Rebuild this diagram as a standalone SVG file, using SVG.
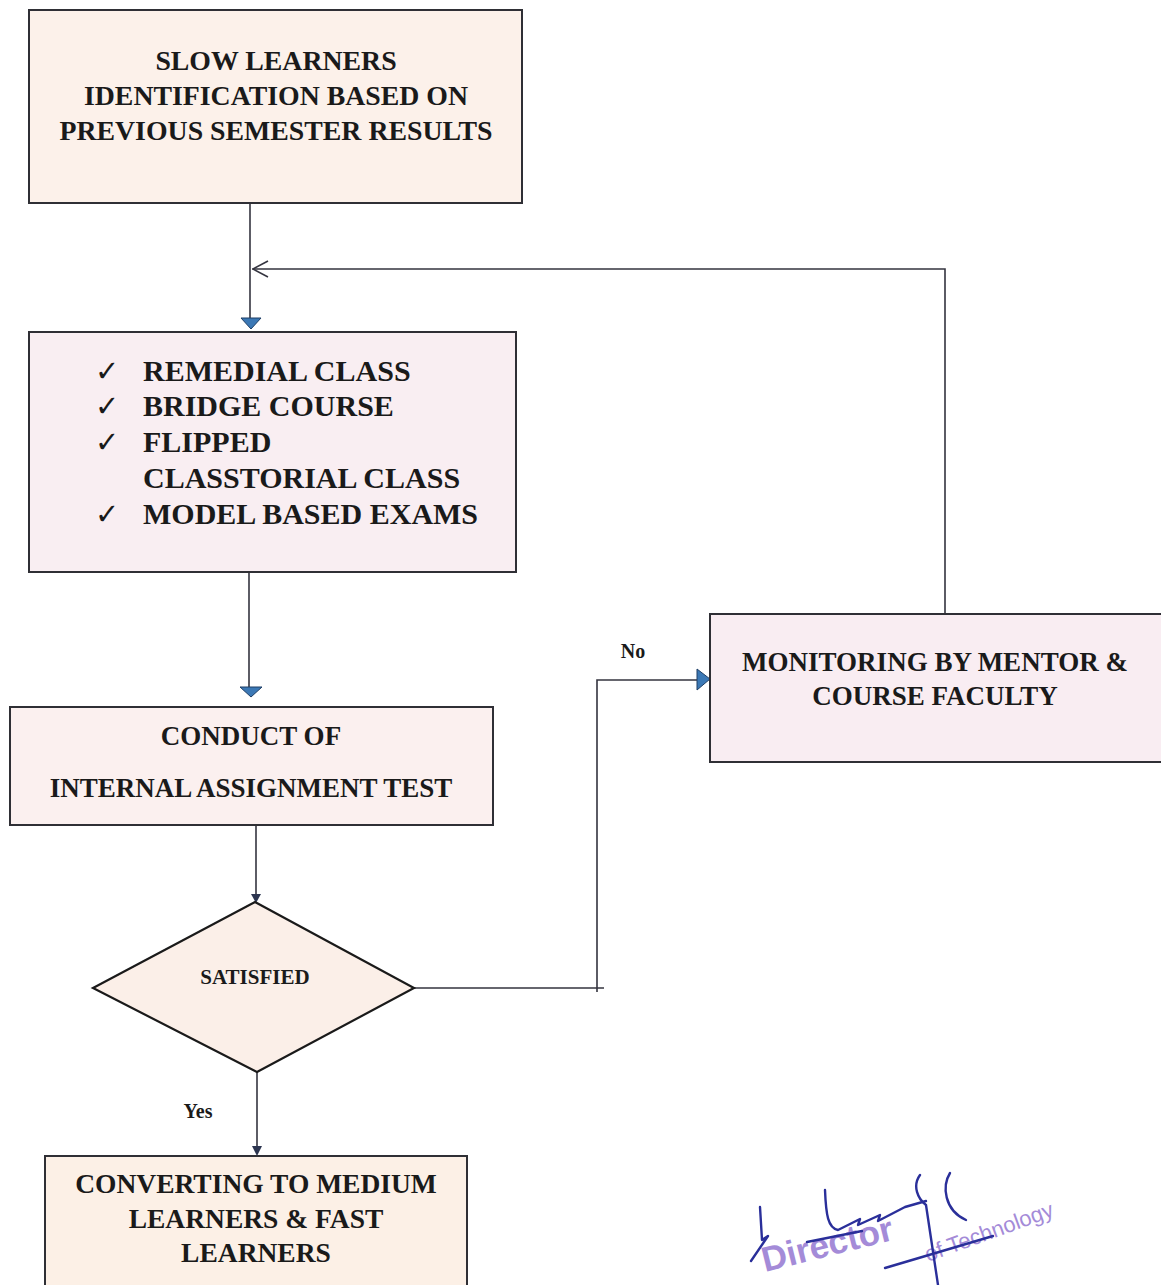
<svg xmlns="http://www.w3.org/2000/svg" width="1161" height="1285" viewBox="0 0 1161 1285">
<style>
.box{stroke:#2f2f35;stroke-width:2}
.t{font-family:"Liberation Serif","Times New Roman",serif;font-weight:bold;fill:#1a1a1a;text-anchor:middle}
.tl{font-family:"Liberation Serif","Times New Roman",serif;font-weight:bold;fill:#1a1a1a}
.ck{font-family:"DejaVu Sans",sans-serif;fill:#1a1a1a}
.c{fill:none;stroke:#34343f;stroke-width:1.6}
.tri{fill:#3b78b5;stroke:#1f3f66;stroke-width:1}
.sm{fill:#2c3550}
.sig{fill:none;stroke:#2a2f9a;stroke-width:2.4;stroke-linecap:round;stroke-linejoin:round}
.stamp{font-family:"Liberation Sans",Arial,sans-serif;fill:#a48bd8}
</style>
<rect width="1161" height="1285" fill="#ffffff"/>

<g id="connectors">
  <path class="c" d="M250,203 V320"/>
  <path class="c" d="M945,614 V269 H252"/>
  <path class="c" d="M253,269 L268,261 M253,269 L268,277"/>
  <polygon class="tri" points="241,318 261,318 251,329"/>
  <path class="c" d="M249,572 V688"/>
  <polygon class="tri" points="240,687 262,687 251,697"/>
  <path class="c" d="M256,825 V896"/>
  <polygon class="sm" points="251,894 261,894 256,903"/>
  <path class="c" d="M414,988 H604 M597,992 V680 H700"/>
  <polygon class="tri" points="697,669 710,679 697,690"/>
  <path class="c" d="M257,1072 V1148"/>
  <polygon class="sm" points="252,1146 262,1146 257,1156"/>
  <text class="t" x="633" y="658" font-size="20">No</text>
  <text class="t" x="198" y="1118" font-size="20">Yes</text>
</g>

<g id="node-identification">
  <rect class="box" x="29" y="10" width="493" height="193" fill="#fcf1ea"/>
  <text class="t" x="276" y="70" font-size="27.8">SLOW LEARNERS</text>
  <text class="t" x="276" y="105" font-size="27.8">IDENTIFICATION BASED ON</text>
  <text class="t" x="276" y="140" font-size="27.8">PREVIOUS SEMESTER RESULTS</text>
</g>

<g id="node-remedial">
  <rect class="box" x="29" y="332" width="487" height="240" fill="#f9eef2"/>
  <text class="ck" x="95" y="381" font-size="29">✓</text>
  <text class="tl" x="143" y="381" font-size="30">REMEDIAL CLASS</text>
  <text class="ck" x="95" y="416" font-size="29">✓</text>
  <text class="tl" x="143" y="416" font-size="30">BRIDGE COURSE</text>
  <text class="ck" x="95" y="452" font-size="29">✓</text>
  <text class="tl" x="143" y="452" font-size="30">FLIPPED</text>
  <text class="tl" x="143" y="488" font-size="30">CLASSTORIAL CLASS</text>
  <text class="ck" x="95" y="524" font-size="29">✓</text>
  <text class="tl" x="143" y="524" font-size="30">MODEL BASED EXAMS</text>
</g>

<g id="node-conduct">
  <rect class="box" x="10" y="707" width="483" height="118" fill="#fbf0ef"/>
  <text class="t" x="251" y="745" font-size="27">CONDUCT OF</text>
  <text class="t" x="251" y="797" font-size="27">INTERNAL ASSIGNMENT TEST</text>
</g>

<g id="node-satisfied">
  <polygon points="255,902 414,988 257,1072 93,988" fill="#fbefe8" stroke="#1a1a1a" stroke-width="2.2"/>
  <text class="t" x="255" y="984" font-size="21">SATISFIED</text>
</g>

<g id="node-monitoring">
  <rect class="box" x="710" y="614" width="455" height="148" fill="#f9edf2"/>
  <text class="t" x="935" y="671" font-size="27">MONITORING BY MENTOR &amp;</text>
  <text class="t" x="935" y="705" font-size="27">COURSE FACULTY</text>
</g>

<g id="node-converting">
  <rect class="box" x="45" y="1156" width="422" height="140" fill="#fcf0e6"/>
  <text class="t" x="256" y="1193" font-size="27.5">CONVERTING TO MEDIUM</text>
  <text class="t" x="256" y="1228" font-size="27.5">LEARNERS &amp; FAST</text>
  <text class="t" x="256" y="1262" font-size="27.5">LEARNERS</text>
</g>

<g id="stamp">
  <text class="stamp" x="765" y="1272" font-size="35" font-weight="bold" transform="rotate(-14 765 1272)">Director</text>
  <text class="stamp" x="928" y="1262" font-size="22" transform="rotate(-20 928 1262)">of Technology</text>
  <path class="sig" d="M760,1207 L762,1240 L768,1236 L751,1261"/>
  <path class="sig" d="M825,1190 C826,1215 828,1228 838,1230 L860,1219 L858,1225 L880,1215 L878,1221 L905,1207 L926,1201"/>
  <path class="sig" d="M807,1242 L862,1231"/>
  <path class="sig" d="M920,1175 C912,1186 918,1199 926,1205 L938,1285"/>
  <path class="sig" d="M950,1173 C942,1186 944,1210 966,1220"/>
  <path class="sig" d="M885,1268 L993,1236"/>
</g>
</svg>
